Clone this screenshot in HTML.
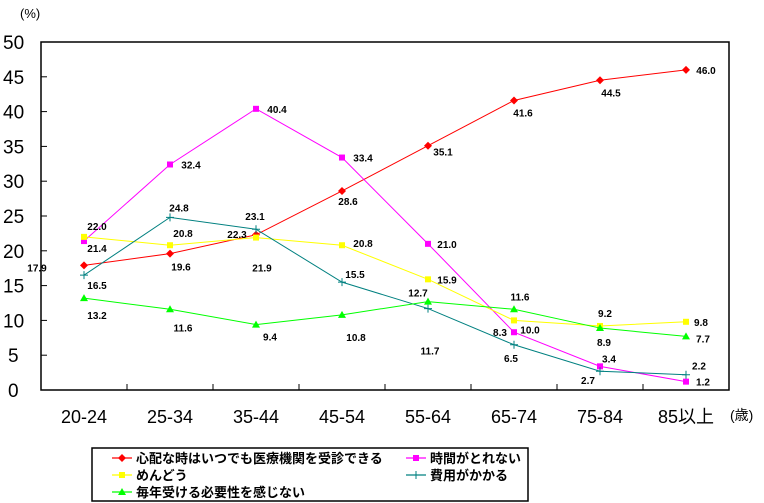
<!DOCTYPE html>
<html><head><meta charset="utf-8"><style>
body{margin:0;background:#fff;}
svg{display:block;font-family:"Liberation Sans","Noto Sans CJK JP",sans-serif;}
.lbl{font-size:10px;font-weight:bold;fill:#000;}
</style></head><body>
<svg id="chart" width="764" height="503" viewBox="0 0 764 503" xmlns="http://www.w3.org/2000/svg">
<text x="20" y="18" font-size="13">(%)</text>
<text x="730" y="420" font-size="14">(歳)</text>
<g id="axes"></g><g id="series"></g>
<rect x="92" y="448" width="436" height="53" fill="none" stroke="#000" stroke-width="1.5"/>
<g id="legend"></g>
</svg>
<script>
const categories=["20-24","25-34","35-44","45-54","55-64","65-74","75-84","85以上"];
const yTicks=[0,5,10,15,20,25,30,35,40,45,50];
const seriesNames=["心配な時はいつでも医療機関を受診できる","時間がとれない","めんどう","費用がかかる","毎年受ける必要性を感じない"];
const redVals=[17.9,19.6,22.3,28.6,35.1,41.6,44.5,46.0];
const magentaVals=[21.4,32.4,40.4,33.4,21.0,8.3,3.4,1.2];
const yellowVals=[22.0,20.8,21.9,20.8,15.9,10.0,9.2,9.8];
const tealVals=[16.5,24.8,23.1,15.5,11.7,6.5,2.7,2.2];
const greenVals=[13.2,11.6,9.4,10.8,12.7,11.6,8.9,7.7];
const redOff=[[-47,2],[11,13],[-19,-1],[6,10],[15,6],[9,12],[11,12],[20,0]];
const magentaOff=[[13,7],[21,0],[21,0],[21,0],[19,0],[-14,0],[9,-8],[17,0]];
const yellowOff=[[13,-11],[13,-12],[6,30],[21,-2],[19,0],[16,9],[5,-13],[15,0]];
const tealOff=[[13,10],[9,-10],[-1,-13],[13,-8],[2,42],[-3,13],[-12,9],[13,-9]];
const greenOff=[[13,17],[13,18],[14,12],[14,22],[-10,-9],[6,-13],[4,14],[17,2]];

const NS="http://www.w3.org/2000/svg";
const L=41,R=729,T=42,B=390,cw=(R-L)/categories.length;
const xs=i=>L+cw*(i+0.5);
const ys=v=>B-(v/50)*(B-T);
function mk(tag,attrs,parent){const e=document.createElementNS(NS,tag);for(const k in attrs)e.setAttribute(k,attrs[k]);parent.appendChild(e);return e;}
const ax=document.getElementById('axes');
let e=mk('path',{d:`M${L},${T}H${R}V${B}H${L}Z`,fill:'none',stroke:'#000','stroke-width':1.5},ax);


yTicks.forEach(t=>{
 let l=mk('line',{x1:L,x2:L+6,y1:ys(t),y2:ys(t),stroke:'#000'},ax);
 
 
 let tx=mk('text',{x:t<10?8:3,y:ys(t)+7,'font-size':19},ax);tx.textContent=t;
 
 
});
categories.forEach((c,i)=>{
 let l=mk('line',{x1:L+cw*(i+1),x2:L+cw*(i+1),y1:B,y2:B-6,stroke:'#000'},ax);
 
 
 let tx=mk('text',{x:xs(i),y:423,'font-size':18,'text-anchor':'middle'},ax);tx.textContent=c;
 
 
});
const series=[[redVals,'#ff0000','diamond',redOff],[magentaVals,'#ff00ff','square',magentaOff],[yellowVals,'#ffff00','square',yellowOff],[tealVals,'#008080','plus',tealOff],[greenVals,'#00ff00','triangle',greenOff]];
function marker(type,x,y,col,g){
 if(type==='diamond')return mk('path',{d:`M${x},${y-4}L${x+4},${y}L${x},${y+4}L${x-4},${y}Z`,fill:col},g);
 if(type==='square')return mk('rect',{x:x-3,y:y-3,width:6,height:6,fill:col},g);
 if(type==='triangle')return mk('path',{d:`M${x},${y-4}L${x+4},${y+3}L${x-4},${y+3}Z`,fill:col},g);
 return mk('path',{d:`M${x-4},${y}H${x+4}M${x},${y-4}V${y+4}`,stroke:col,'stroke-width':1},g);
}
const sg=document.getElementById('series');
series.forEach((s,si)=>{
 const [vals,col,mt,off]=s;
 const g=mk('g',{},sg);
 
 
 let p=mk('polyline',{points:vals.map((v,i)=>xs(i)+','+ys(v)).join(' '),fill:'none',stroke:col,'stroke-width':1},g);
 
 
 vals.forEach((v,i)=>{
  let m=marker(mt,xs(i),ys(v),col,g);
  
  
  let t=mk('text',{x:xs(i)+off[i][0],y:ys(v)+off[i][1]+4,'text-anchor':'middle',class:'lbl'},g);
  t.textContent=v.toFixed(1);
  
  
 });
});
const lg=document.getElementById('legend');
const lpos=[[98,458],[392,458],[98,475],[392,475],[98,492]];
series.forEach((s,si)=>{
 const [x,y]=lpos[si];
 const g=mk('g',{},lg);
 
 
 mk('line',{x1:x+14,x2:x+34,y1:y,y2:y,stroke:s[1],'stroke-width':1.2},g);
 marker(s[2],x+24,y,s[1],g);
 let t=mk('text',{x:x+38,y:y+5,'font-size':13,'font-weight':'bold'},g);
 t.textContent=seriesNames[si];
});
</script>
</body></html>
